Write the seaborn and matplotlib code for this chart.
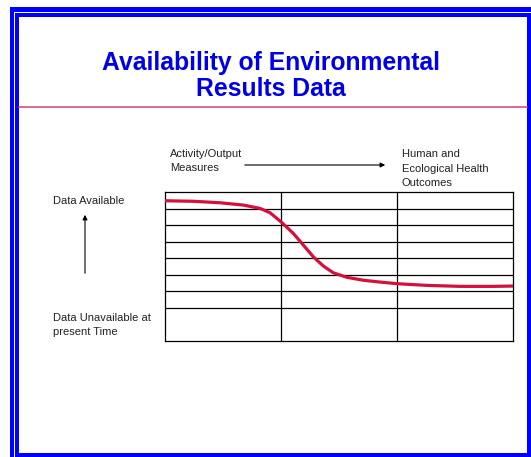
import matplotlib

matplotlib.use("Agg")

import matplotlib.pyplot as plt
from matplotlib.patches import FancyArrowPatch, Rectangle
import pandas as pd
import seaborn as sns

W, H = 531, 457

TITLE = "Availability of Environmental\nResults Data"
Y_TOP_LABEL = "Data Available"
Y_BOTTOM_LABEL = "Data Unavailable at\npresent Time"
X_LEFT_LABEL = "Activity/Output\nMeasures"
X_RIGHT_LABEL = "Human and\nEcological Health\nOutcomes"

# grid structure (3 columns, rows with a double-height bottom row)
col_edges = [0, 1, 2, 3]
row_edges = [0, 2, 3, 4, 5, 6, 7, 8, 9]

# availability curve
curve_x = [0.0, 0.244, 0.474, 0.675, 0.819, 0.905, 1.0, 1.106, 1.192, 1.278,
           1.365, 1.451, 1.566, 1.709, 1.853, 2.003, 2.256, 2.543, 2.83, 3.0]
curve_y = [8.47, 8.44, 8.35, 8.21, 8.01, 7.75, 7.20, 6.50, 5.80, 5.09,
           4.53, 4.12, 3.85, 3.67, 3.56, 3.46, 3.36, 3.30, 3.30, 3.32]

BLUE = "#0000ff"
RED = "#d4103c"


def px(x, y):
    # pixel position measured from the top-left corner -> display coords
    return x, H - y


sns.set_theme(style="white")
plt.rcParams["font.family"] = ["Liberation Sans", "DejaVu Sans"]

fig = plt.figure(figsize=(W / 100, H / 100), dpi=100)
fig.patch.set_facecolor("white")

# double blue frame
bands = [
    (10, 7, 4.3, H - 7),      # outer left
    (10, 7, W - 10, 4.7),     # outer top
    (15, 13, 4, H - 13),      # inner left
    (15, 13, W - 15, 4.3),    # inner top
    (527, 13, 4, H - 13),     # inner right
    (15, 453, W - 15, 4),     # inner bottom
]
for x0, y0, w, h in bands:
    fig.patches.append(
        Rectangle((x0, H - y0 - h), w, h, transform=None, color=BLUE, lw=0)
    )

# title
fig.text(*px(271, 76), TITLE, transform=None, ha="center", va="center",
         fontsize=17.8, fontweight="bold", color="#0000e8", linespacing=1.12)

# pink rule under the title
fig.add_artist(plt.Line2D([19, 527], [H - 106.7, H - 106.7], transform=None,
                          color="#d8507e", lw=1.2))

# grid axes
ax = fig.add_axes([165 / W, (H - 341) / H, 348 / W, 149 / H])
ax.set_xlim(col_edges[0], col_edges[-1])
ax.set_ylim(row_edges[0], row_edges[-1])
for r in row_edges[1:-1]:
    ax.axhline(r, color="black", lw=0.9)
for c in col_edges[1:-1]:
    ax.axvline(c, color="black", lw=0.9)
for s in ax.spines.values():
    s.set_color("black")
    s.set_linewidth(0.9)
ax.set_xticks([])
ax.set_yticks([])

df = pd.DataFrame({"x": curve_x, "y": curve_y})
sns.lineplot(data=df, x="x", y="y", ax=ax, color=RED, lw=2.3,
             solid_capstyle="butt", solid_joinstyle="round", zorder=5,
             clip_on=False)
ax.set_xlabel("")
ax.set_ylabel("")

small = dict(transform=None, fontsize=8, color="#222222", ha="left",
             va="center", linespacing=1.6)
fig.text(*px(53, 201), Y_TOP_LABEL, **small)
fig.text(*px(53, 325), Y_BOTTOM_LABEL, **small)
fig.text(*px(170, 161), X_LEFT_LABEL, **small)
fig.text(*px(402, 168.5), X_RIGHT_LABEL, **small)

# arrows
fig.add_artist(FancyArrowPatch(
    px(242, 165), px(388, 165), transform=None, arrowstyle="-|>",
    mutation_scale=7, color="black", lw=0.8))
fig.add_artist(FancyArrowPatch(
    px(85, 276), px(85, 212), transform=None, arrowstyle="-|>",
    mutation_scale=7, color="black", lw=0.8))

fig.savefig("out.png", dpi=100, facecolor="white")
